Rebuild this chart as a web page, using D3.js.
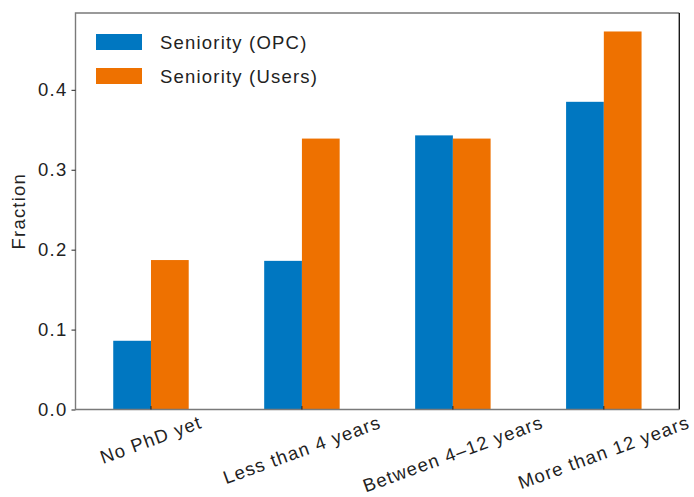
<!DOCTYPE html>
<html>
<head>
<meta charset="utf-8">
<script src="https://cdn.jsdelivr.net/npm/d3@7"></script>
<style>
  body { margin: 0; background: #fff; }
  svg text { font-family: "Liberation Sans", Arial, sans-serif; fill: #222; }
</style>
</head>
<body>
<svg id="chart"></svg>
<script>
var WIDTH = 694;
var HEIGHT = 497;

var categories = ['No PhD yet', 'Less than 4 years', 'Between 4\u201312 years', 'More than 12 years'];
var seriesNames = ['Seniority (OPC)', 'Seniority (Users)'];
var opcValues = [0.086, 0.186, 0.343, 0.385];
var userValues = [0.187, 0.339, 0.339, 0.473];
var yTicks = [0.0, 0.1, 0.2, 0.3, 0.4];
var colors = ['#0077c1', '#ee7100'];

// plot box (note: "top" is reserved on window, so use other names)
var plotLeft = 75.5, plotRight = 679.3, plotTop = 13, plotBottom = 409.5;
var FONT = 18.5;

var svg = d3.select('#chart')
  .attr('width', WIDTH)
  .attr('height', HEIGHT);

// x: one band per category, bars take half of each band
var xScale = d3.scaleBand().domain(categories).range([plotLeft, plotRight]).padding(0);
var bw = xScale.bandwidth();
var xInner = d3.scaleBand().domain(seriesNames).range([-bw / 4, bw / 4]).padding(0);

var yScale = d3.scaleLinear().domain([0, 0.4725 * 1.05]).range([plotBottom, plotTop]);

var rows = categories.map(function(c, i) {
  return { cat: c, values: [opcValues[i], userValues[i]] };
});

// bars
var groups = svg.append('g').selectAll('g')
  .data(rows)
  .enter()
  .append('g')
  .attr('transform', function(d) { return 'translate(' + (xScale(d.cat) + bw / 2) + ',0)'; });

groups.selectAll('rect')
  .data(function(d) { return d.values.map(function(v, j) { return { name: seriesNames[j], v: v, j: j }; }); })
  .enter()
  .append('rect')
  .attr('x', function(d) { return xInner(d.name); })
  .attr('width', xInner.bandwidth())
  .attr('y', function(d) { return yScale(d.v); })
  .attr('height', function(d) { return plotBottom - yScale(d.v); })
  .attr('fill', function(d) { return colors[d.j]; });

// frame
var frame = svg.append('g').attr('fill', 'none').attr('stroke-width', 1.4);
frame.append('path').attr('d', 'M' + plotLeft + ',' + plotBottom + 'V' + plotTop + 'H' + plotRight).attr('stroke', '#7a7a7a');
frame.append('path').attr('d', 'M' + plotRight + ',' + plotTop + 'V' + plotBottom).attr('stroke', '#1a1a1a');
frame.append('path').attr('d', 'M' + plotLeft + ',' + plotBottom + 'H' + plotRight).attr('stroke', '#7a7a7a');

// y axis
var leftAxis = d3.axisLeft(yScale).tickValues(yTicks).tickFormat(d3.format('.1f')).tickSize(4).tickPadding(4);
var yAxisG = svg.append('g')
  .attr('transform', 'translate(' + plotLeft + ',0)')
  .call(leftAxis);
yAxisG.select('.domain').remove();
yAxisG.selectAll('line').attr('stroke', '#222').attr('stroke-width', 1);
yAxisG.selectAll('text')
  .attr('font-size', FONT)
  .style('letter-spacing', '1.3px')
  .attr('font-family', null)
  .attr('fill', '#222');

// x ticks (inside, pointing up)
svg.append('g').selectAll('line')
  .data(categories)
  .enter()
  .append('line')
  .attr('x1', function(d) { return xScale(d) + bw / 2; })
  .attr('x2', function(d) { return xScale(d) + bw / 2; })
  .attr('y1', plotBottom)
  .attr('y2', plotBottom - 3.5)
  .attr('stroke', '#222')
  .attr('stroke-width', 1);

// x labels rotated 20 degrees, bounding box centred under the tick
var ang = 20 * Math.PI / 180;
svg.append('g').selectAll('text')
  .data(categories)
  .enter()
  .append('text')
  .attr('font-size', FONT)
  .style('letter-spacing', '1.2px')
  .attr('text-anchor', 'middle')
  .attr('dominant-baseline', 'central')
  .text(function(d) { return d; })
  .attr('transform', function(d) {
    var w = this.getComputedTextLength();
    var h = FONT * 0.9;
    var cy = plotBottom + 4 + (w * Math.sin(ang) + h * Math.cos(ang)) / 2;
    return 'translate(' + (xScale(d) + bw / 2) + ',' + cy + ') rotate(-20)';
  });

// y label
svg.append('text')
  .attr('font-size', FONT)
  .style('letter-spacing', '1.2px')
  .attr('text-anchor', 'middle')
  .attr('dominant-baseline', 'central')
  .attr('transform', 'translate(18,' + ((plotTop + plotBottom) / 2) + ') rotate(-90)')
  .text('Fraction');

// legend
var legend = svg.append('g').selectAll('g')
  .data(seriesNames)
  .enter()
  .append('g')
  .attr('transform', function(d, i) { return 'translate(96,' + (34 + i * 34) + ')'; });
legend.append('rect')
  .attr('width', 46)
  .attr('height', 16)
  .attr('fill', function(d, i) { return colors[i]; });
legend.append('text')
  .attr('x', 64)
  .attr('y', 8)
  .attr('font-size', FONT)
  .style('letter-spacing', '1.2px')
  .attr('dominant-baseline', 'central')
  .text(function(d) { return d; });
</script>
</body>
</html>
